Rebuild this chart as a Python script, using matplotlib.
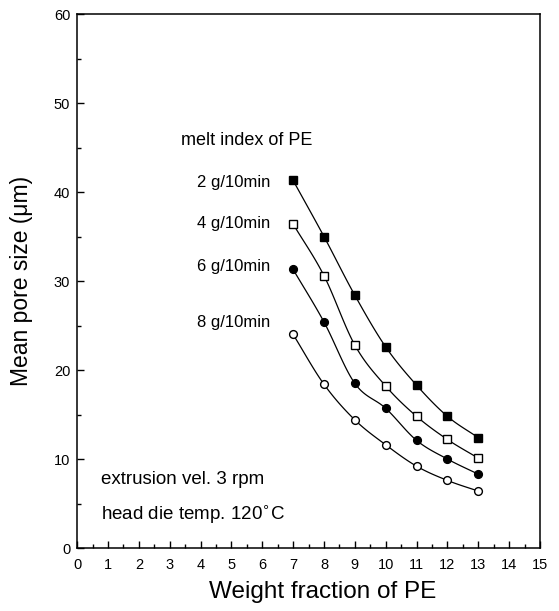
import numpy as np
import matplotlib
matplotlib.use("Agg")
import matplotlib.pyplot as plt
from matplotlib.ticker import MultipleLocator

plt.rcParams['font.family'] = ['Liberation Sans', 'DejaVu Sans']

# weight fraction of PE
wf = [7, 8, 9, 10, 11, 12, 13]
# mean pore size (um) for each melt index
mi2 = [41.3, 35.0, 28.4, 22.6, 18.3, 14.8, 12.4]
mi4 = [36.4, 30.6, 22.8, 18.2, 14.8, 12.2, 10.1]
mi6 = [31.3, 25.4, 18.5, 15.7, 12.1, 10.0, 8.3]
mi8 = [24.0, 18.4, 14.4, 11.6, 9.2, 7.6, 6.4]
labels = ['2 g/10min', '4 g/10min', '6 g/10min', '8 g/10min']


def smooth(x, y, n=20):
    # catmull-rom curve through the points
    x = np.asarray(x, float)
    y = np.asarray(y, float)
    px = np.concatenate([[2 * x[0] - x[1]], x, [2 * x[-1] - x[-2]]])
    py = np.concatenate([[2 * y[0] - y[1]], y, [2 * y[-1] - y[-2]]])
    xs, ys = [], []
    t = np.linspace(0, 1, n)
    for i in range(1, len(px) - 2):
        for p, out in ((px, xs), (py, ys)):
            p0, p1, p2, p3 = p[i - 1], p[i], p[i + 1], p[i + 2]
            out.extend(0.5 * (2 * p1 + (-p0 + p2) * t + (2 * p0 - 5 * p1 + 4 * p2 - p3) * t ** 2
                              + (-p0 + 3 * p1 - 3 * p2 + p3) * t ** 3))
    return xs, ys


fig = plt.figure(figsize=(5.59, 6.11), dpi=100)
ax = fig.add_axes([0.138, 0.103, 0.828, 0.874])

series = [(mi2, 's', 'k'), (mi4, 's', 'w'), (mi6, 'o', 'k'), (mi8, 'o', 'w')]
for ys, m, fc in series:
    sx, sy = smooth(wf, ys)
    ax.plot(sx, sy, color='k', lw=0.9)
    ax.plot(wf, ys, ls='none', marker=m, ms=5.6, mfc=fc, mec='k', mew=1.0)

ax.set_xlim(0, 15)
ax.set_ylim(0, 60)
ax.xaxis.set_major_locator(MultipleLocator(1))
ax.xaxis.set_minor_locator(MultipleLocator(0.5))
ax.yaxis.set_major_locator(MultipleLocator(10))
ax.yaxis.set_minor_locator(MultipleLocator(5))
ax.tick_params(which='both', direction='in', labelsize=10.5)
ax.tick_params(which='major', length=5, width=1)
ax.tick_params(which='minor', length=3, width=1)
ax.tick_params(axis='x', which='major', pad=7)
ax.tick_params(axis='y', which='major', pad=5)
for s in ax.spines.values():
    s.set_linewidth(1.1)

ax.set_xlabel('Weight fraction of PE', fontsize=17.5)
ax.set_ylabel('Mean pore size (\u03bcm)', fontsize=16.5)
ax.xaxis.set_label_coords(0.53, -0.062)
ax.yaxis.set_label_coords(-0.095, 0.5)

ax.text(3.35, 45.8, 'melt index of PE', fontsize=13, va='center')
label_y = [41.1, 36.5, 31.6, 25.3]
for lab, ly in zip(labels, label_y):
    ax.text(6.25, ly, lab, fontsize=12, va='center', ha='right')

ax.text(0.78, 7.7, 'extrusion vel. 3 rpm', fontsize=13.5, va='center')
ax.text(0.78, 3.8, 'head die temp. 120$^{\\circ}$C', fontsize=13.5, va='center')

fig.savefig('out.png', dpi=100)
